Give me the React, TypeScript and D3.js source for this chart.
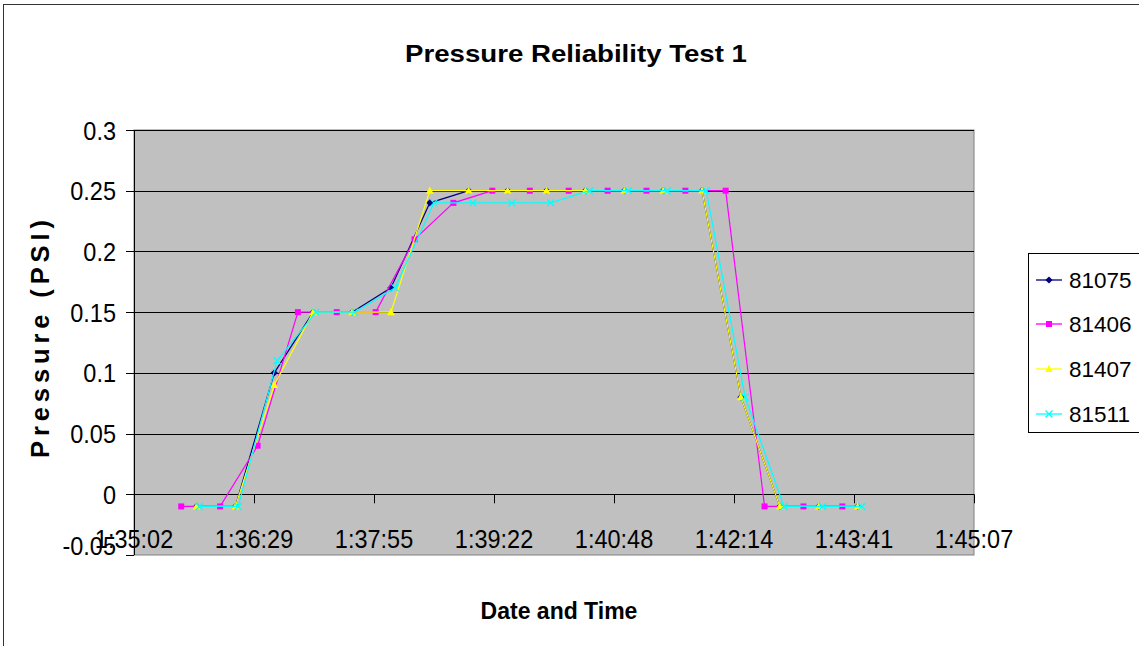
import React from "react";
import * as d3 from "d3";

const TITLE = "Pressure Reliability Test 1";
const X_TITLE = "Date and Time";
const Y_TITLE = "Pressure (PSI)";

const xTickLabels = ["1:35:02", "1:36:29", "1:37:55", "1:39:22", "1:40:48", "1:42:14", "1:43:41", "1:45:07"];
const yTicks = [0.3, 0.25, 0.2, 0.15, 0.1, 0.05, 0, -0.05];

const times81406 = ["1:35:36", "1:36:04", "1:36:31", "1:37:00", "1:37:28", "1:37:56", "1:38:24", "1:38:52", "1:39:20", "1:39:47", "1:40:15", "1:40:43", "1:41:11", "1:41:39", "1:42:08", "1:42:36", "1:43:04", "1:43:32"];
const timesMain = ["1:35:47", "1:36:15", "1:36:43", "1:37:11", "1:37:39", "1:38:07", "1:38:35", "1:39:03", "1:39:31", "1:39:59", "1:40:27", "1:40:55", "1:41:23", "1:41:51", "1:42:19", "1:42:47", "1:43:15", "1:43:43"];
const times81511 = ["1:35:49", "1:36:17", "1:36:45", "1:37:13", "1:37:41", "1:38:10", "1:38:38", "1:39:06", "1:39:34", "1:40:02", "1:40:30", "1:40:58", "1:41:26", "1:41:54", "1:42:22", "1:42:50", "1:43:18", "1:43:46"];

const values81075 = [-0.01, -0.01, 0.10, 0.15, 0.15, 0.17, 0.24, 0.25, 0.25, 0.25, 0.25, 0.25, 0.25, 0.25, 0.08, -0.01, -0.01, -0.01];
const values81406 = [-0.01, -0.01, 0.04, 0.15, 0.15, 0.15, 0.21, 0.24, 0.25, 0.25, 0.25, 0.25, 0.25, 0.25, 0.25, -0.01, -0.01, -0.01];
const values81407 = [-0.01, -0.01, 0.09, 0.15, 0.15, 0.15, 0.25, 0.25, 0.25, 0.25, 0.25, 0.25, 0.25, 0.25, 0.08, -0.01, -0.01, -0.01];
const values81511 = [-0.01, -0.01, 0.11, 0.15, 0.15, 0.17, 0.24, 0.24, 0.24, 0.24, 0.25, 0.25, 0.25, 0.25, 0.08, -0.01, -0.01, -0.01];

const seriesNames = ["81075", "81406", "81407", "81511"];
const seriesColors = ["#000080", "#FF00FF", "#FFFF00", "#00FFFF"];
const seriesMarkers = ["diamond", "square", "triangle", "x"];

const toSec = (s: string) => {
  const [h, m, sec] = s.split(":").map(Number);
  return h * 3600 + m * 60 + sec;
};

const AXIS_START = toSec(xTickLabels[0]);
const STEP = 86.4; // 0.001 day

const FONT = "'Liberation Sans', Arial, sans-serif";

function Marker({ type, x, y, color }: { type: string; x: number; y: number; color: string }) {
  if (type === "diamond") {
    const r = 3.6;
    return <path d={`M${x},${y - r}L${x + r},${y}L${x},${y + r}L${x - r},${y}Z`} fill={color} />;
  }
  if (type === "square") {
    const r = 3;
    return <rect x={x - r} y={y - r} width={2 * r} height={2 * r} fill={color} />;
  }
  if (type === "triangle") {
    const r = 3.8;
    return <path d={`M${x},${y - r - 0.5}L${x + r},${y + r - 0.8}L${x - r},${y + r - 0.8}Z`} fill={color} />;
  }
  const r = 3.5;
  return (
    <path
      d={`M${x - r},${y - r}L${x + r},${y + r}M${x - r},${y + r}L${x + r},${y - r}`}
      stroke={color}
      strokeWidth={1.3}
      fill="none"
    />
  );
}

export default function App() {
  const W = 1139;
  const H = 646;
  const left = 134;
  const right = 974;
  const top = 130;
  const bottom = 555;

  const x = d3.scaleLinear().domain([0, STEP * 7]).range([left, right]);
  const y = d3.scaleLinear().domain([-0.05, 0.3]).range([bottom, top]);

  const series = [
    { name: seriesNames[0], times: timesMain, values: values81075 },
    { name: seriesNames[1], times: times81406, values: values81406 },
    { name: seriesNames[2], times: timesMain, values: values81407 },
    { name: seriesNames[3], times: times81511, values: values81511 },
  ].map((s, i) => ({
    ...s,
    color: seriesColors[i],
    marker: seriesMarkers[i],
    points: s.values.map((v, j) => ({ t: toSec(s.times[j]) - AXIS_START, v })),
  }));

  const line = d3
    .line<{ t: number; v: number }>()
    .x((d) => x(d.t))
    .y((d) => y(d.v));

  const xTicks = xTickLabels.map((_, i) => i * STEP);
  const y0 = y(0);

  return (
    <svg
      width={W}
      height={H}
      style={{ position: "absolute", left: 0, top: 0, background: "#fff" }}
      fontFamily={FONT}
    >
      <rect x={0} y={0} width={W} height={H} fill="#fff" />
      <rect x={3.5} y={4.5} width={1300} height={800} fill="none" stroke="#333" strokeWidth={1} />

      <text
        x={576}
        y={62}
        textAnchor="middle"
        fontSize={24}
        fontWeight="bold"
        textLength={342}
        lengthAdjust="spacingAndGlyphs"
      >
        {TITLE}
      </text>

      {/* plot area */}
      <rect x={left} y={top} width={right - left} height={bottom - top} fill="#C0C0C0" stroke="#808080" strokeWidth={1} />

      {/* gridlines */}
      {yTicks
        .filter((v) => v > 0)
        .map((v) => (
          <line key={v} x1={left} x2={right} y1={Math.round(y(v)) + 0.5} y2={Math.round(y(v)) + 0.5} stroke="#000" strokeWidth={1} />
        ))}

      {/* x axis at zero */}
      <line x1={left} x2={right} y1={Math.round(y0) + 0.5} y2={Math.round(y0) + 0.5} stroke="#000" strokeWidth={1} />
      {xTicks.map((t, i) => (
        <line key={i} x1={Math.round(x(t)) + 0.5} x2={Math.round(x(t)) + 0.5} y1={y0} y2={y0 + 9} stroke="#000" strokeWidth={1} />
      ))}

      {/* y axis */}
      <line x1={left + 0.5} x2={left + 0.5} y1={top} y2={bottom} stroke="#000" strokeWidth={1} />
      {yTicks.map((v) => (
        <line key={v} x1={left - 8} x2={left} y1={Math.round(y(v)) + 0.5} y2={Math.round(y(v)) + 0.5} stroke="#000" strokeWidth={1} />
      ))}

      {/* series */}
      {series.map((s) => (
        <g key={s.name}>
          <path d={line(s.points) || ""} fill="none" stroke={s.color} strokeWidth={1.2} />
          {s.points.map((p, j) => (
            <Marker key={j} type={s.marker} x={x(p.t)} y={y(p.v)} color={s.color} />
          ))}
        </g>
      ))}

      {/* y tick labels */}
      {yTicks.map((v) => {
        const cy = v === -0.05 ? 545 : y(v);
        return (
          <text
            key={v}
            transform={`translate(116, ${cy + 9.5}) scale(1, 1.1)`}
            textAnchor="end"
            fontSize={23.5}
          >
            {String(v)}
          </text>
        );
      })}

      {/* x tick labels */}
      {xTicks.map((t, i) => (
        <text
          key={i}
          transform={`translate(${x(t)}, 548) scale(1, 1.12)`}
          textAnchor="middle"
          fontSize={23.5}
        >
          {xTickLabels[i]}
        </text>
      ))}

      {/* axis titles */}
      <text x={559} y={619} textAnchor="middle" fontSize={23} fontWeight="bold">
        {X_TITLE}
      </text>
      <text
        transform="translate(49, 339) rotate(-90)"
        textAnchor="middle"
        fontSize={25.5}
        fontWeight="bold"
        textLength={238}
        lengthAdjust="spacing"
      >
        {Y_TITLE}
      </text>

      {/* legend */}
      <rect x={1028.5} y={253.5} width={150} height={179} fill="#fff" stroke="#000" strokeWidth={1} />
      {series.map((s, i) => {
        const base = [288, 332, 377, 422][i];
        const ly = base - 8;
        return (
          <g key={s.name}>
            <line x1={1036} x2={1062} y1={ly} y2={ly} stroke={s.color} strokeWidth={1.3} />
            <Marker type={s.marker} x={1049} y={ly} color={s.color} />
            <text x={1069} y={base} fontSize={22.5}>
              {s.name}
            </text>
          </g>
        );
      })}
    </svg>
  );
}
